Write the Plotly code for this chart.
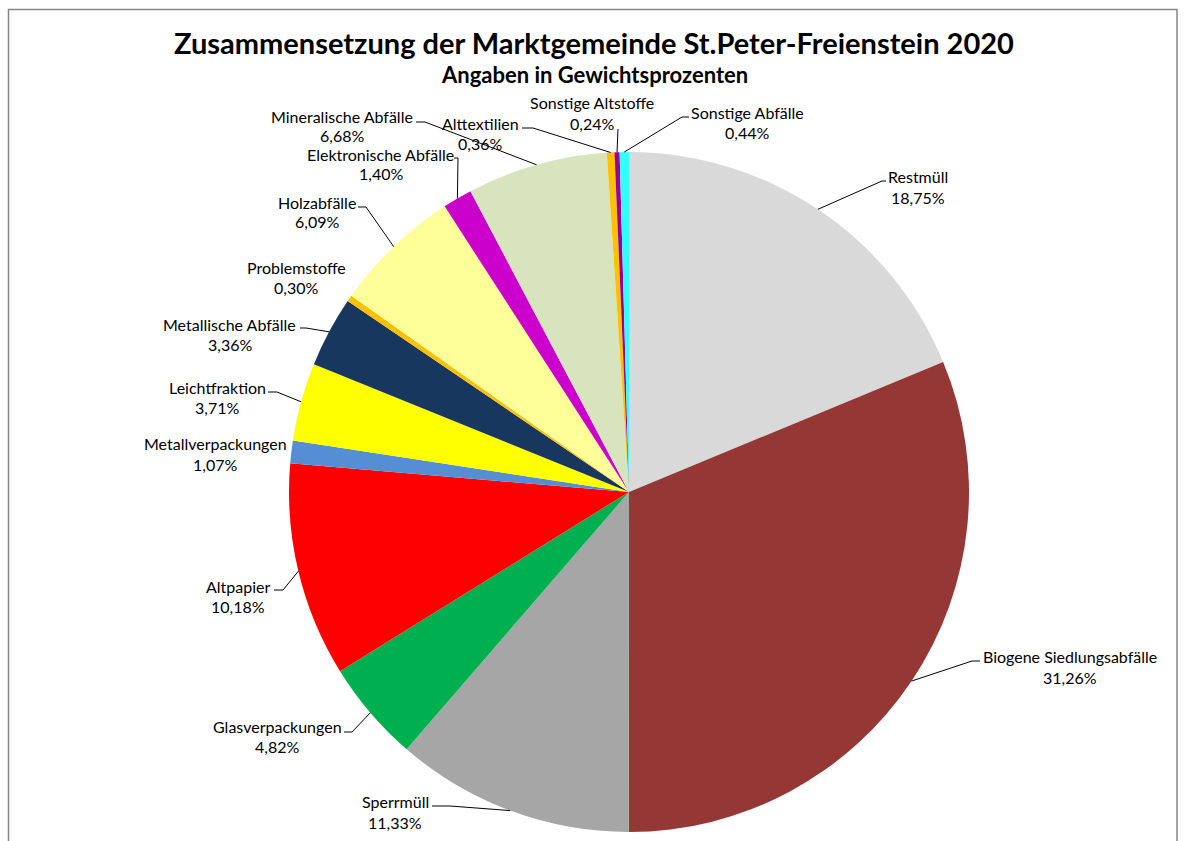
import math
import plotly.graph_objects as go

# ---------------- data ----------------
categories = [
    "Restmüll", "Biogene Siedlungsabfälle", "Sperrmüll", "Glasverpackungen",
    "Altpapier", "Metallverpackungen", "Leichtfraktion", "Metallische Abfälle",
    "Problemstoffe", "Holzabfälle", "Elektronische Abfälle", "Mineralische Abfälle",
    "Alttextilien", "Sonstige Altstoffe", "Sonstige Abfälle",
]
values = [18.75, 31.26, 11.33, 4.82, 10.18, 1.07, 3.71, 3.36,
          0.30, 6.09, 1.40, 6.68, 0.36, 0.24, 0.44]
colors = [
    "#D9D9D9", "#953735", "#A6A6A6", "#00B050", "#FF0000", "#558ED5",
    "#FFFF00", "#17375E", "#FFC000", "#FFFF99", "#CC00CC", "#D7E4BD",
    "#FFC000", "#990099", "#33FFFF",
]
title_text = "Zusammensetzung der Marktgemeinde St.Peter-Freienstein 2020"
subtitle_text = "Angaben in Gewichtsprozenten"

# ---------------- layout (pixels) ----------------
W, H = 1184, 841
CX, CY, R = 629, 492, 340
FONT = "Lato, 'Open Sans', sans-serif"

# label placement: (text centre x, first-line y, second-line y, leader points from label side)
label_layout = {
    "Restmüll": (918, 177, 197, [(886, 181), (882, 181)]),
    "Biogene Siedlungsabfälle": (1070, 656, 677, [(980, 661), (972, 661)]),
    "Sperrmüll": (395, 801, 822, [(432, 806), (450, 806)]),
    "Glasverpackungen": (277, 726, 746, [(344, 732), (352, 732)]),
    "Altpapier": (238, 586, 606, [(274, 590), (283, 590)]),
    "Metallverpackungen": (215, 444, 464, None),
    "Leichtfraktion": (217, 387, 407, [(268, 392), (277, 392)]),
    "Metallische Abfälle": (230, 324, 344, [(300, 328), (306, 328)]),
    "Problemstoffe": (296, 267, 287, None),
    "Holzabfälle": (317, 202, 222, [(358, 207), (366, 207)]),
    "Elektronische Abfälle": (381, 155, 174, [(454, 158), (458, 158)]),
    "Mineralische Abfälle": (342, 117, 136, [(416, 122), (425, 122)]),
    "Alttextilien": (480, 124, 144, [(522, 128), (533, 128)]),
    "Sonstige Altstoffe": (592, 102, 123, [(618, 129)]),
    "Sonstige Abfälle": (747, 113, 133, [(689, 117), (682, 117)]),
}


def px(x):
    return x / W


def py(y):
    return 1 - y / H


def text_ann(x, y, text, size, bold=False):
    return dict(
        x=px(x), y=py(y), xref="paper", yref="paper",
        text=f"<b>{text}</b>" if bold else text, showarrow=False,
        xanchor="center", yanchor="middle",
        font=dict(family=FONT, size=size, color="#000000"),
    )


fig = go.Figure()
fig.add_trace(go.Pie(
    labels=categories,
    values=values,
    sort=False,
    direction="clockwise",
    rotation=0,
    marker=dict(colors=colors, line=dict(width=0)),
    textinfo="none",
    hoverinfo="label+percent",
    showlegend=False,
    domain=dict(x=[px(CX - R), px(CX + R)], y=[py(CY + R), py(CY - R)]),
))

shapes = []
annotations = []

# chart frame
shapes.append(dict(type="rect", xref="paper", yref="paper",
                   x0=px(8.5), x1=px(1177), y0=py(860), y1=py(9.5),
                   line=dict(color="#878787", width=1.5), layer="below"))

total = sum(values)
cum = 0.0
for cat, val in zip(categories, values):
    mid = (cum + val / 2) / total * 2 * math.pi
    cum += val
    ex = CX + R * math.sin(mid)
    ey = CY - R * math.cos(mid)
    tx, ty1, ty2, pts = label_layout[cat]
    pct = f"{val:.2f}".replace(".", ",") + "%"
    annotations.append(text_ann(tx, ty1, cat, 16))
    annotations.append(text_ann(tx, ty2, pct, 16))
    if pts:
        path_pts = pts + [(ex, ey)]
        d = "M " + " L ".join(f"{px(x)},{py(y)}" for x, y in path_pts)
        shapes.append(dict(type="path", xref="paper", yref="paper", path=d,
                           line=dict(color="#000000", width=1)))

annotations.append(text_ann(594, 43, title_text, 29, bold=True))
annotations.append(text_ann(594, 75, subtitle_text, 22, bold=True))

fig.update_layout(
    width=W, height=H,
    margin=dict(l=0, r=0, t=0, b=0),
    paper_bgcolor="white", plot_bgcolor="white",
    shapes=shapes, annotations=annotations,
)

fig.write_html("out.html", config={"displayModeBar": False},
               post_script="document.body.style.margin='0';document.body.style.overflow='hidden';")
